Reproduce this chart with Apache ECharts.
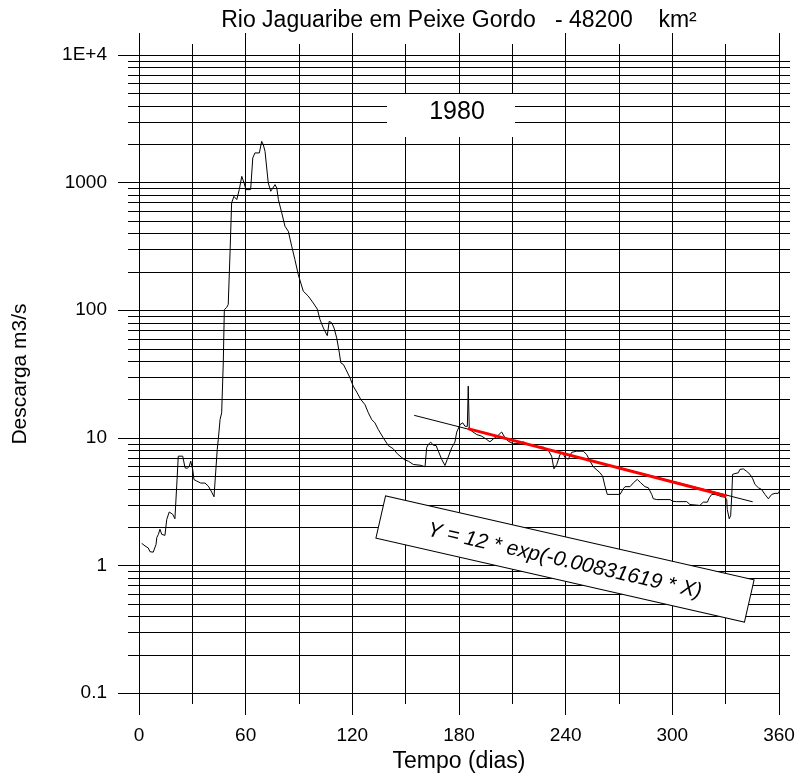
<!DOCTYPE html>
<html>
<head>
<meta charset="utf-8">
<title>Rio Jaguaribe em Peixe Gordo</title>
<script src="https://cdn.jsdelivr.net/npm/echarts@6/dist/echarts.min.js"></script>
<style>
  html, body { margin: 0; padding: 0; background: #fff; }
  #chart { width: 798px; height: 778px; }
</style>
</head>
<body>
<div id="chart"></div>
<script>
  // daily discharge 1980 (day of year, m3/s)
  var days = [
    1.5, 3.4, 5.2, 6.2, 8.0, 9.6, 10.0, 10.9, 11.8, 12.8,
    14.6, 15.6, 17.0, 19.0, 20.2, 21.2, 22.1, 23.1, 24.6, 25.9,
    27.2, 28.3, 29.1, 30.2, 30.9, 32.5, 33.4, 34.7, 37.1, 39.0,
    40.9, 42.2, 44.0, 44.6, 45.6, 46.5, 47.4, 48.0, 49.3, 50.2,
    51.2, 52.1, 53.4, 55.0, 56.4, 57.8, 59.1, 60.2, 62.8, 64.0,
    65.2, 66.2, 67.7, 69.0, 69.9, 70.9, 72.7, 74.1, 75.2, 76.5,
    77.5, 78.4, 80.3, 82.1, 84.0, 85.9, 87.7, 89.6, 92.4, 95.2,
    98.0, 100.3, 101.8, 103.7, 105.9, 107.0, 108.4, 109.7, 111.2, 112.7,
    113.5, 115.0, 116.4, 118.7, 120.5, 122.5, 124.7, 127.1, 129.0, 130.9,
    132.7, 134.6, 137.4, 140.2, 143.0, 145.3, 147.8, 149.6, 151.5, 154.3,
    158.1, 160.9, 161.8, 162.7, 164.1, 165.5, 167.1, 168.4, 170.3, 172.1,
    173.4, 175.9, 177.7, 178.7, 180.6, 182.1, 183.4, 184.7, 185.2, 185.8,
    187.1, 190.0, 192.8, 195.6, 197.4, 199.3, 201.5, 204.0, 205.9, 207.7,
    210.5, 213.4, 216.2, 219.0, 221.8, 224.6, 227.4, 230.2, 232.1, 233.4,
    235.0, 236.8, 238.3, 239.6, 241.5, 243.4, 246.2, 249.9, 251.8, 253.7,
    255.5, 259.3, 260.8, 262.1, 263.4, 270.6, 272.4, 273.4, 276.2, 278.1,
    280.3, 282.2, 284.6, 286.5, 288.4, 289.3, 291.2, 298.7, 300.2, 302.4,
    308.1, 309.9, 315.5, 317.4, 319.7, 320.8, 322.2, 324.0, 325.9, 327.8,
    329.6, 330.6, 330.9, 332.0, 332.8, 333.4, 333.9, 335.2, 337.1, 338.0,
    339.9, 341.8, 343.7, 345.2, 346.5, 348.4, 350.2, 352.1, 354.0, 355.9,
    357.8, 359.6, 360.6, 370.0
  ];
  var discharge = [
    1.49, 1.42, 1.37, 1.28, 1.27, 1.46, 1.65, 1.75, 1.92, 1.75,
    1.72, 2.29, 2.62, 2.51, 2.32, 4.18, 7.18, 7.40, 7.18, 5.82,
    5.76, 6.0, 6.56, 5.65, 4.71, 4.58, 4.65, 4.42, 4.42, 4.18,
    3.75, 3.45, 8.08, 9.7, 13.9, 15.7, 38.6, 101, 105, 111,
    281, 693, 780, 736, 881, 1119, 995, 881, 881, 1561,
    1708, 1655, 1708, 2104, 1983, 1757, 995, 855, 881, 964,
    908, 736, 579, 455, 415, 317, 249, 190, 141, 129,
    114, 102, 84.5, 72.6, 63.2, 81.8, 79.6, 72.6, 60.7, 46.3,
    38.7, 37.5, 34.3, 29.5, 25.4, 22.8, 20.0, 18.2, 15.7, 13.9,
    13.1, 11.6, 10.0, 8.7, 8.2, 7.5, 7.0, 6.7, 6.56, 6.18,
    6.1, 5.93, 8.36, 8.87, 9.25, 8.75, 8.7, 7.85, 6.76, 6.07,
    6.76, 8.36, 9.25, 11.07, 12.7, 13.1, 12.3, 12.3, 25.4, 11.6,
    11.3, 10.6, 10.3, 9.7, 9.3, 9.8, 10.3, 11.1, 10.0, 9.4,
    9.0, 9.0, 9.3, 8.9, 8.6, 8.5, 8.45, 8.0, 7.18, 5.71,
    6.18, 7.4, 7.7, 7.0, 6.8, 7.7, 7.85, 7.85, 7.4, 6.56,
    5.93, 5.32, 5.0, 4.18, 3.6, 3.6, 3.98, 4.14, 4.14, 4.44,
    4.72, 4.44, 4.14, 4.06, 3.6, 3.33, 3.28, 3.28, 3.18, 3.16,
    3.16, 3.0, 2.95, 3.13, 3.13, 3.39, 3.6, 3.6, 3.53, 3.45,
    3.43, 3.28, 2.74, 2.32, 2.45, 3.49, 5.17, 5.24, 5.32, 5.65,
    5.71, 5.46, 5.17, 4.78, 4.31, 4.06, 3.94, 3.6, 3.33, 3.6,
    3.67, 3.67, 3.89, 3.89
  ];

  // recession fit Y = 12 * exp(-0.00831619 * X), X counted from day 185
  var trendDays = [154.8, 345.2];
  var trendValues = [15.0, 3.15];
  var fitDays = [185, 330.5];
  var fitValues = [11.8, 3.5];

  var yTickLabels = ['0.1', '1', '10', '100', '1000', '1E+4'];
  var minorGridValues = [
    0.2, 0.3, 0.4, 0.5, 0.6, 0.7, 0.8, 0.9,
    2, 3, 4, 5, 6, 7, 8, 9,
    20, 30, 40, 50, 60, 70, 80, 90,
    200, 300, 400, 500, 600, 700, 800, 900,
    2000, 3000, 4000, 5000, 6000, 7000, 8000, 9000
  ];

  var font = 'Liberation Sans, Arial, Helvetica, sans-serif';
  var ink = '#000';

  function pairs(xs, ys) {
    return xs.map(function (x, i) { return [x, ys[i]]; });
  }

  function xAxisAt(pos, step, tickLen, withLabels) {
    return {
      type: 'value',
      position: pos,
      min: 0,
      max: 360,
      interval: step,
      name: withLabels ? 'Tempo (dias)' : '',
      nameLocation: 'middle',
      nameGap: 54,
      nameTextStyle: { color: ink, fontSize: 23, fontFamily: font },
      axisLine: { show: false },
      axisTick: { show: true, inside: false, length: tickLen, lineStyle: { color: ink, width: 1 } },
      axisLabel: { show: withLabels, margin: 33, color: ink, fontSize: 19, fontFamily: font },
      splitLine: { show: pos === 'bottom' && step === 30, lineStyle: { color: ink, width: 1 } }
    };
  }

  function yAxisAt(pos, tickLen, withLabels) {
    return {
      type: 'log',
      logBase: 10,
      position: pos,
      min: 0.1,
      max: 10000,
      name: withLabels ? 'Descarga m3/s' : '',
      nameLocation: 'middle',
      nameGap: 108,
      nameTextStyle: { color: ink, fontSize: 21, fontFamily: font },
      axisLine: { show: false },
      axisTick: { show: true, inside: false, length: tickLen, lineStyle: { color: ink, width: 1 } },
      axisLabel: {
        show: withLabels, margin: 32, color: ink, fontSize: 19, fontFamily: font,
        formatter: function (v) { return yTickLabels[Math.round(Math.log10(v)) + 1]; }
      },
      splitLine: { show: pos === 'left', lineStyle: { color: ink, width: 1 } }
    };
  }

  var chart = echarts.init(document.getElementById('chart'));

  chart.setOption({
    animation: false,
    backgroundColor: '#fff',
    grid: { left: 139, right: 19, top: 55, bottom: 85 },
    xAxis: [
      xAxisAt('bottom', 30, 11, false),
      xAxisAt('bottom', 60, 22, true),
      xAxisAt('top', 30, 11, false),
      xAxisAt('top', 60, 22, false)
    ],
    yAxis: [
      yAxisAt('left', 21, true),
      yAxisAt('right', 19, false)
    ],
    graphic: [
      {
        type: 'text', x: 459, y: 21, z: 100,
        style: { text: 'Rio Jaguaribe em Peixe Gordo   - 48200    km²', fill: ink, fontSize: 23, fontFamily: font, align: 'center', verticalAlign: 'middle' }
      },
      {
        type: 'rect', z: 100,
        shape: { x: 387, y: 94, width: 128, height: 43 },
        style: { fill: '#fff' }
      },
      {
        type: 'text', x: 457, y: 112, z: 101,
        style: { text: '1980', fill: ink, fontSize: 25, fontFamily: font, align: 'center', verticalAlign: 'middle' }
      },
      {
        type: 'group', x: 565, y: 559, rotation: -12.85 * Math.PI / 180, z: 100,
        children: [
          {
            type: 'rect', z: 100,
            shape: { x: -189, y: -21.7, width: 378, height: 43.4 },
            style: { fill: '#fff', stroke: ink, lineWidth: 1 }
          },
          {
            type: 'text', x: 0, y: 2, z: 101,
            style: { text: 'Y = 12 * exp(-0.00831619 * X)', fill: ink, fontSize: 21, fontStyle: 'italic', fontFamily: font, align: 'center', verticalAlign: 'middle' }
          }
        ]
      }
    ],
    series: [
      {
        // minor log grid lines, stretched a little past the frame like the original
        type: 'custom',
        silent: true,
        z: 1,
        clip: false,
        data: minorGridValues.map(function (v) { return [0, v]; }),
        encode: { x: 0, y: 1 },
        renderItem: function (params, api) {
          var a = api.coord([0, api.value(1)]);
          var b = api.coord([360, api.value(1)]);
          var y = Math.round(a[1]) + 0.5;
          return {
            type: 'line',
            shape: { x1: a[0] - 11, y1: y, x2: b[0] + 11, y2: y },
            style: { stroke: ink, lineWidth: 1 }
          };
        }
      },
      {
        name: 'Descarga',
        type: 'line',
        z: 3,
        clip: false,
        symbol: 'none',
        data: pairs(days, discharge),
        lineStyle: { color: ink, width: 1 }
      },
      {
        name: 'Tendencia',
        type: 'line',
        z: 4,
        symbol: 'none',
        data: pairs(trendDays, trendValues),
        lineStyle: { color: ink, width: 1 }
      },
      {
        name: 'Ajuste',
        type: 'line',
        z: 5,
        symbol: 'none',
        data: pairs(fitDays, fitValues),
        lineStyle: { color: '#ff0000', width: 3 }
      }
    ]
  });
</script>
</body>
</html>
